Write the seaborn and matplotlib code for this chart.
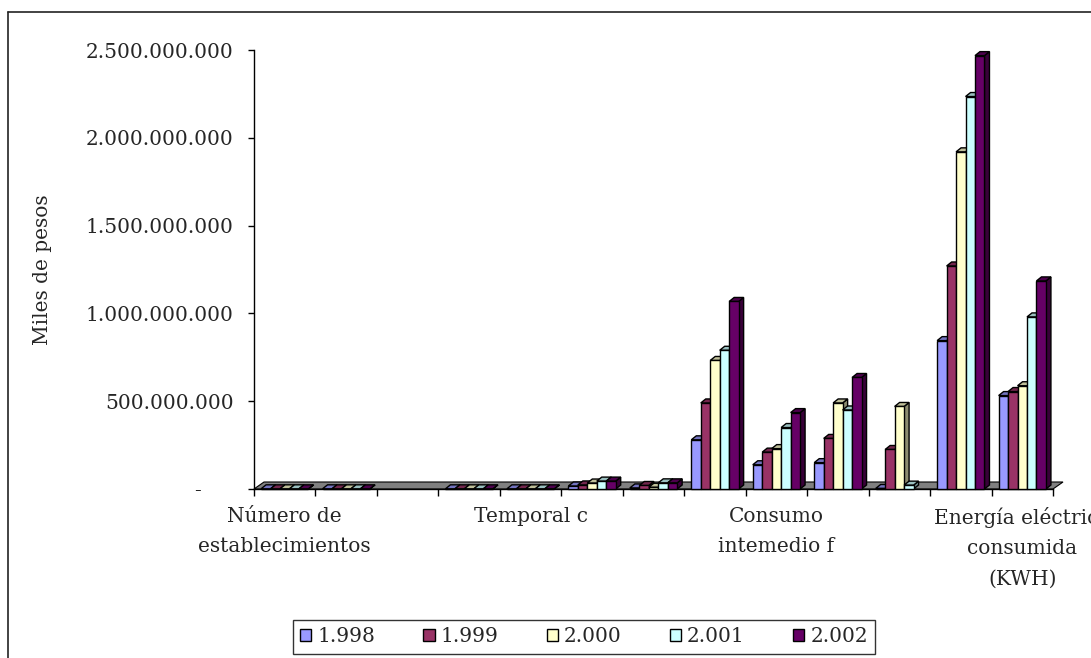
import numpy as np
import pandas as pd
import matplotlib
matplotlib.use("Agg")
import matplotlib.pyplot as plt
from matplotlib.patches import Polygon, Patch
from matplotlib.lines import Line2D
import matplotlib.colors as mcolors
import seaborn as sns

# --- data (miles de pesos) ---
categorias = ["Número de\nestablecimientos", "", "", "", "Temporal c", "", "", "",
              "Consumo\nintemedio f", "", "", "", "Energía eléctrica\nconsumida\n(KWH)"]
anios = ["1.998", "1.999", "2.000", "2.001", "2.002"]
v1998 = [1e6, 1e6, np.nan, 1e6, 1e6, 17e6, 6e6, 280e6, 138e6, 150e6, 3e6, 845e6, 532e6]
v1999 = [1e6, 1e6, np.nan, 1e6, 1e6, 23e6, 20e6, 490e6, 210e6, 288e6, 225e6, 1270e6, 555e6]
v2000 = [1e6, 1e6, np.nan, 1e6, 1e6, 34e6, 10e6, 732e6, 230e6, 490e6, 470e6, 1920e6, 588e6]
v2001 = [1e6, 1e6, np.nan, 1e6, 1e6, 45e6, 35e6, 790e6, 350e6, 450e6, 22e6, 2235e6, 980e6]
v2002 = [1e6, 1e6, np.nan, 1e6, 1e6, 45e6, 35e6, 1068e6, 435e6, 635e6, np.nan, 2468e6, 1185e6]
ytick_vals = [0, 500e6, 1000e6, 1500e6, 2000e6, 2500e6]
ytick_txt = ["-     ", "500.000.000", "1.000.000.000", "1.500.000.000",
             "2.000.000.000", "2.500.000.000"]

colores = ["#9999FF", "#993366", "#FFFFCC", "#CCFFFF", "#660066"]

rows = []
for anio, serie in zip(anios, [v1998, v1999, v2000, v2001, v2002]):
    for pos, val in enumerate(serie):
        if not np.isnan(val):
            rows.append({"pos": pos, "anio": anio, "valor": val})
df = pd.DataFrame(rows)

sns.set_style("white")
plt.rcParams["font.family"] = ["DejaVu Serif"]
FS = 14.5

W, H = 1091, 658
fig = plt.figure(figsize=(W / 100, H / 100), dpi=100)
ax_l, ax_r, ax_t, ax_b = 254, 1053, 50, 489
ax = fig.add_axes([ax_l / W, 1 - ax_b / H, (ax_r - ax_l) / W, (ax_b - ax_t) / H])

n = len(categorias)
sns.barplot(data=df, x="pos", y="valor", hue="anio", order=list(range(n)),
            hue_order=anios, palette=colores, saturation=1, width=0.77, gap=0,
            edgecolor="black", linewidth=1, ax=ax, legend=False)

ax.set_xlim(-0.5, n - 0.5)
ax.set_ylim(0, 2.5e9)

# pixel -> data conversion for the fake 3D depth
sx = n / (ax_r - ax_l)
sy = 2.5e9 / (ax_b - ax_t)

def darker(c, f):
    r, g, b = mcolors.to_rgb(c)
    return (r * f, g * f, b * f)

# grey floor
fdx, fdy = 10 * sx, 7 * sy
floor = Polygon([(-0.5, 0), (n - 0.5, 0), (n - 0.5 + fdx, fdy), (-0.5 + fdx, fdy)],
                closed=True, facecolor="#808080", edgecolor="black", lw=0.8,
                clip_on=False, zorder=1)
ax.add_patch(floor)

# 3D sides/tops, left to right so the next bar covers the previous side
bdx, bdy = 5 * sx, 4 * sy
bars = [p for p in ax.patches if p is not floor and np.isfinite(p.get_height())
        and p.get_height() > 0]
bars.sort(key=lambda p: p.get_x())
for i, p in enumerate(bars):
    x0, w, h = p.get_x(), p.get_width(), p.get_height()
    fc = p.get_facecolor()
    z = 2 + i * 0.01
    side = Polygon([(x0 + w, 0), (x0 + w + bdx, bdy), (x0 + w + bdx, h + bdy), (x0 + w, h)],
                   closed=True, facecolor=darker(fc, 0.55), edgecolor="black", lw=1,
                   clip_on=False, zorder=z)
    top = Polygon([(x0, h), (x0 + w, h), (x0 + w + bdx, h + bdy), (x0 + bdx, h + bdy)],
                  closed=True, facecolor=darker(fc, 0.75), edgecolor="black", lw=1,
                  clip_on=False, zorder=z)
    ax.add_patch(side)
    ax.add_patch(top)
    p.set_zorder(z + 0.005)
    p.set_clip_on(False)

# axes styling
sns.despine(ax=ax, top=True, right=True)
ax.spines["left"].set_color("black")
ax.spines["bottom"].set_color("black")
ax.spines["left"].set_linewidth(1)
ax.spines["bottom"].set_linewidth(1)
ax.spines["bottom"].set_zorder(1.5)

ax.set_yticks(ytick_vals, labels=ytick_txt)
ax.tick_params(axis="y", direction="out", length=4.5, width=1, color="black",
               pad=10, labelsize=FS, left=True)

ax.set_xticks(np.arange(-0.5, n, 1), labels=[""] * (n + 1))
ax.tick_params(axis="x", which="major", direction="out", length=5, width=1,
               color="black", bottom=True)
lab_pos = [i for i, c in enumerate(categorias) if c]
ax.set_xticks(lab_pos, labels=[categorias[i] for i in lab_pos], minor=True)
ax.tick_params(axis="x", which="minor", length=0, pad=13, labelsize=FS)
for t in ax.get_xticklabels(minor=True):
    t.set_linespacing(1.75)

ax.set_xlabel("")
ax.set_ylabel("Miles de pesos", fontsize=FS)
ax.yaxis.set_label_coords((52 - ax_l) / (ax_r - ax_l), 0.5)

# legend
handles = [Patch(facecolor=c, edgecolor="black", lw=1) for c in colores]
leg = fig.legend(handles, anios, loc="center", bbox_to_anchor=(584 / W, 1 - 637 / H),
                 ncol=5, frameon=True, fancybox=False, edgecolor="black",
                 fontsize=FS, handlelength=0.55, handleheight=0.55,
                 handletextpad=0.3, columnspacing=2.4, borderpad=0.35)
leg.get_frame().set_linewidth(1)

# outer chart frame (clipped at right and bottom as in the original)
fig.add_artist(Line2D([8 / W, 8 / W], [0, 1 - 12 / H], transform=fig.transFigure,
                      color="#222222", lw=1.2))
fig.add_artist(Line2D([8 / W, 1], [1 - 12 / H, 1 - 12 / H], transform=fig.transFigure,
                      color="#222222", lw=1.2))

fig.savefig("out.png", dpi=100)
